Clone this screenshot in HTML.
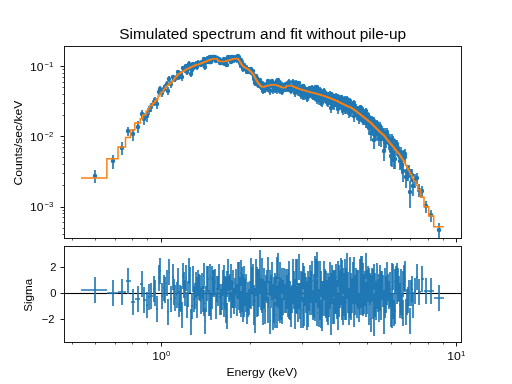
<!DOCTYPE html>
<html><head><meta charset="utf-8"><style>
html,body{margin:0;padding:0;background:#fff;width:512px;height:384px;overflow:hidden}
svg{display:block}
text{font-family:"Liberation Sans",sans-serif;fill:#000}
</style></head><body>
<svg width="512" height="384" viewBox="0 0 512 384">
<rect width="512" height="384" fill="#fff"/>
<g id="data" fill="none">
<path d="M95 183V170M113 169V155M122 155V142M128 136V127M133 141V129M138 133V121M142 119V110M144 125V113M147 122V111M149 115V106M151 112V103M154 106V98M155 105V97M157 109V99M159 95V89M160 92V86M162 97V90M164 92V85M165 91V84M167 87V81M168 95V87M169 82V76M171 88V81M173 80V75M174 82V76M175 82V76M177 80V74M178 75V70M179 80V74M180 78V72M181 77V71M182 81V74M183 71V66M184 72V67M185 73V67M186 69V64M187 75V69M188 71V66M189 66V61M190 68V63M191 77V71M192 73V67M193 66V62M194 70V65M195 69V64M196 66V61M197 70V64M197 67V62M198 65V60M199 65V61M200 65V61M201 67V62M202 64V60M203 66V61M204 62V57M204 66V61M205 70V64M206 65V60M207 63V58M207 61V57M208 60V56M209 64V60M210 64V60M210 59V55M211 64V60M212 59V55M212 62V58M213 59V56M214 60V56M214 59V55M215 59V55M216 63V59M217 60V56M218 61V57M218 62V58M219 61V57M220 64V60M220 65V61M221 65V61M222 64V60M223 62V58M224 66V61M224 61V57M225 63V59M225 64V60M226 67V62M226 63V59M227 62V58M227 67V62M228 60V56M228 59V55M229 62V57M230 61V57M231 59V55M231 64V59M232 62V57M232 62V57M233 62V57M233 59V55M234 63V58M235 61V56M235 61V57M236 59V55M237 62V57M237 63V58M238 60V56M238 58V54M239 63V58M239 59V55M240 63V58M240 66V61M241 62V58M241 68V63M242 64V60M242 69V64M243 67V63M243 72V67M244 71V66M244 67V63M245 69V65M245 70V65M246 71V67M246 69V65M247 74V69M247 74V69M248 72V67M248 74V69M249 74V69M250 73V68M250 74V69M251 75V70M251 71V67M252 73V69M253 73V69M253 77V72M254 79V73M254 82V77M254 80V75M255 86V80M255 82V77M256 80V75M256 79V74M257 81V76M257 86V81M258 83V79M258 88V82M258 84V79M259 87V82M259 85V80M260 85V80M260 82V78M261 88V83M261 90V85M262 86V81M262 85V81M262 91V86M263 89V84M263 94V88M264 90V85M264 87V82M265 90V84M265 91V85M265 93V87M266 88V83M267 86V82M267 87V82M267 88V83M268 92V86M268 84V79M269 88V83M269 88V83M270 86V81M270 95V88M271 88V83M271 88V83M271 87V81M272 84V79M272 86V81M273 94V87M273 89V83M274 87V82M274 87V82M274 92V86M275 93V87M275 86V81M276 87V82M276 88V82M277 94V87M277 83V78M277 89V84M278 83V78M278 89V83M279 88V83M279 93V87M280 85V80M280 94V87M280 89V83M281 89V84M281 93V87M282 87V82M282 95V89M283 93V87M283 91V85M283 92V86M284 89V84M284 88V83M285 92V86M285 92V86M286 92V86M286 91V85M286 87V82M287 90V84M287 88V82M288 89V83M288 92V85M288 86V81M289 92V86M289 89V83M289 84V79M290 92V86M290 89V83M291 94V87M291 90V84M291 94V87M292 90V84M292 91V85M293 89V83M293 85V79M293 89V83M294 88V82M294 90V84M294 91V85M295 93V87M295 97V90M295 90V84M296 86V80M296 89V83M296 93V86M297 86V81M297 93V86M297 94V87M298 96V89M298 95V88M298 93V86M299 86V81M299 93V87M300 96V89M300 94V88M300 93V87M301 99V92M301 92V86M301 90V85M302 92V86M302 91V85M303 98V91M303 100V92M303 89V84M304 90V84M304 100V92M304 93V87M305 94V87M305 92V86M305 93V87M306 96V89M306 94V87M306 94V88M307 95V88M307 102V94M307 98V91M308 101V94M308 94V88M308 93V87M309 94V88M309 97V90M309 95V89M310 92V86M310 98V91M310 92V87M311 93V87M311 95V89M312 91V85M312 99V92M312 93V87M313 100V92M313 99V92M313 100V93M314 95V88M314 100V93M315 96V90M315 101V94M315 93V87M315 91V85M316 96V90M316 91V86M316 95V89M317 90V85M317 97V90M317 104V96M318 93V87M318 98V91M319 102V94M319 100V93M319 105V97M320 99V92M320 103V95M320 93V87M321 96V90M321 106V97M321 105V97M322 101V94M322 107V99M322 99V93M323 99V92M323 102V95M323 102V94M324 98V91M324 95V89M324 94V88M325 100V93M325 97V90M325 103V95M326 98V92M326 104V96M326 98V91M327 106V98M327 105V97M327 101V94M328 99V92M328 107V99M328 103V96M329 101V94M329 100V94M329 105V97M330 101V94M330 103V96M330 97V91M331 100V93M331 108V100M331 113V103M331 102V95M332 98V92M332 102V95M332 99V93M333 105V97M333 109V101M333 100V94M333 103V96M334 101V94M334 110V101M335 103V96M335 107V99M335 101V94M335 107V99M336 107V99M336 107V99M336 100V93M337 105V97M337 108V100M337 110V101M338 110V102M338 100V94M338 114V105M339 109V101M339 103V97M339 101V95M340 107V99M340 103V97M340 104V97M341 103V96M341 107V99M341 101V95M342 106V99M342 102V95M342 113V104M343 104V97M343 114V105M343 115V106M344 106V99M344 112V104M344 107V100M345 114V105M345 103V96M345 109V101M346 114V106M346 109V101M346 106V99M346 113V105M347 108V100M347 102V96M347 106V100M348 110V103M348 113V105M348 108V101M349 118V108M349 114V105M349 116V107M350 104V98M350 110V103M350 116V107M351 117V108M351 109V102M351 116V107M352 114V106M352 112V105M352 112V104M353 112V104M353 112V105M353 108V101M354 106V100M354 122V112M354 113V105M354 109V102M355 117V109M355 113V105M355 113V106M356 114V106M356 111V104M356 112V105M357 120V111M357 116V108M357 113V106M358 113V106M358 118V110M358 118V110M358 117V109M359 122V113M359 124V114M360 111V105M360 120V111M360 118V110M360 122V113M361 113V106M361 112V105M361 120V112M361 117V109M362 123V114M362 113V106M362 116V109M363 125V115M363 115V108M363 119V111M363 119V111M364 120V112M364 125V116M364 125V115M365 119V111M365 123V114M366 128V118M366 114V108M366 124V116M367 127V117M367 128V118M367 121V113M368 120V112M368 124V115M369 121V113M369 135V123M369 128V118M369 129V119M370 127V117M370 124V116M371 141V127M371 133V122M371 126V117M372 124V116M372 124V116M372 128V119M373 136V125M373 126V117M373 136V125M374 137V126M374 149V133M374 125V117M375 129V120M375 138V126M375 133V123M376 133V123M376 141V129M377 135V125M377 133V123M377 131V122M377 128V120M378 135V125M378 139V127M379 134V124M379 141V129M379 146V133M380 131V122M380 140V129M381 137V127M381 135V125M381 147V134M382 135V126M382 137V127M383 141V130M383 138V128M384 146V134M384 161V143M385 144V133M385 150V136M385 138V128M386 142V131M386 148V136M387 144V133M387 137V128M387 139V130M388 144V133M388 144V134M389 150V138M389 149V137M390 145V134M390 150V138M390 148V137M391 160V145M391 166V149M392 167V149M392 155V142M392 144V134M393 145V136M393 162V147M394 169V151M395 150V139M395 152V141M395 169V152M396 150V140M397 156V144M397 150V140M398 157V145M398 154V143M399 158V147M400 170V154M400 164V151M401 169V154M401 158V147M402 174V158M403 182V163M403 162V151M404 160V150M405 159V149M405 163V152M406 188V169M407 181V165M408 181V166M409 178V165M410 208V181M411 182V169M412 182V169M413 196V178M415 188V174M417 184V173M419 197V184M422 197V186M426 213V201M431 222V210M439 238V223" stroke="#1f77b4" stroke-width="1.67"/>
<path d="M95 176h0M113 161h0M122 148h0M128 131h0M133 134h0M138 127h0M142 114h0M144 119h0M147 116h0M149 110h0M151 107h0M154 102h0M155 101h0M157 104h0M159 92h0M160 89h0M162 93h0M164 89h0M165 87h0M167 84h0M168 91h0M169 79h0M171 84h0M173 77h0M174 79h0M175 79h0M177 77h0M178 72h0M179 77h0M180 75h0M181 74h0M182 77h0M183 68h0M184 69h0M185 70h0M186 66h0M187 72h0M188 69h0M189 64h0M190 65h0M191 74h0M192 70h0M193 64h0M194 67h0M195 66h0M196 64h0M197 67h0M197 64h0M198 63h0M199 63h0M200 63h0M201 65h0M202 62h0M203 64h0M204 59h0M204 64h0M205 67h0M206 62h0M207 60h0M207 59h0M208 58h0M209 62h0M210 62h0M210 57h0M211 62h0M212 57h0M212 60h0M213 57h0M214 58h0M214 57h0M215 57h0M216 61h0M217 58h0M218 59h0M218 60h0M219 59h0M220 62h0M220 63h0M221 63h0M222 62h0M223 60h0M224 63h0M224 59h0M225 61h0M225 62h0M226 64h0M226 61h0M227 59h0M227 65h0M228 58h0M228 57h0M229 59h0M230 59h0M231 57h0M231 62h0M232 59h0M232 60h0M233 59h0M233 57h0M234 60h0M235 58h0M235 59h0M236 57h0M237 59h0M237 60h0M238 58h0M238 56h0M239 60h0M239 57h0M240 60h0M240 63h0M241 60h0M241 66h0M242 62h0M242 66h0M243 65h0M243 69h0M244 69h0M244 65h0M245 67h0M245 68h0M246 69h0M246 67h0M247 72h0M247 71h0M248 69h0M248 71h0M249 71h0M250 71h0M250 71h0M251 72h0M251 69h0M252 71h0M253 71h0M253 74h0M254 76h0M254 79h0M254 77h0M255 83h0M255 80h0M256 77h0M256 76h0M257 78h0M257 84h0M258 81h0M258 85h0M258 81h0M259 84h0M259 82h0M260 83h0M260 80h0M261 85h0M261 87h0M262 83h0M262 83h0M262 88h0M263 87h0M263 91h0M264 88h0M264 85h0M265 87h0M265 88h0M265 90h0M266 85h0M267 84h0M267 84h0M267 85h0M268 89h0M268 81h0M269 86h0M269 86h0M270 83h0M270 91h0M271 85h0M271 85h0M271 84h0M272 81h0M272 84h0M273 90h0M273 86h0M274 84h0M274 84h0M274 89h0M275 90h0M275 83h0M276 84h0M276 85h0M277 90h0M277 81h0M277 86h0M278 80h0M278 86h0M279 85h0M279 90h0M280 83h0M280 90h0M280 86h0M281 86h0M281 90h0M282 85h0M282 92h0M283 90h0M283 88h0M283 89h0M284 86h0M284 85h0M285 89h0M285 89h0M286 89h0M286 88h0M286 84h0M287 87h0M287 85h0M288 86h0M288 88h0M288 83h0M289 89h0M289 86h0M289 82h0M290 89h0M290 86h0M291 91h0M291 87h0M291 90h0M292 87h0M292 88h0M293 86h0M293 82h0M293 86h0M294 85h0M294 87h0M294 88h0M295 90h0M295 93h0M295 87h0M296 83h0M296 86h0M296 89h0M297 83h0M297 89h0M297 90h0M298 92h0M298 92h0M298 89h0M299 83h0M299 90h0M300 92h0M300 91h0M300 90h0M301 95h0M301 89h0M301 87h0M302 89h0M302 88h0M303 94h0M303 96h0M303 86h0M304 87h0M304 96h0M304 90h0M305 90h0M305 89h0M305 90h0M306 92h0M306 90h0M306 91h0M307 91h0M307 98h0M307 94h0M308 97h0M308 91h0M308 89h0M309 91h0M309 93h0M309 92h0M310 88h0M310 95h0M310 89h0M311 90h0M311 92h0M312 88h0M312 95h0M312 90h0M313 96h0M313 95h0M313 96h0M314 91h0M314 96h0M315 93h0M315 97h0M315 90h0M315 88h0M316 93h0M316 89h0M316 92h0M317 87h0M317 94h0M317 100h0M318 90h0M318 95h0M319 98h0M319 97h0M319 100h0M320 95h0M320 99h0M320 90h0M321 93h0M321 101h0M321 101h0M322 97h0M322 103h0M322 96h0M323 96h0M323 98h0M323 98h0M324 94h0M324 91h0M324 91h0M325 96h0M325 93h0M325 99h0M326 95h0M326 100h0M326 94h0M327 101h0M327 100h0M327 97h0M328 95h0M328 103h0M328 99h0M329 97h0M329 97h0M329 101h0M330 98h0M330 99h0M330 94h0M331 96h0M331 103h0M331 108h0M331 98h0M332 95h0M332 98h0M332 96h0M333 101h0M333 105h0M333 97h0M333 99h0M334 97h0M334 105h0M335 99h0M335 102h0M335 97h0M335 102h0M336 103h0M336 103h0M336 96h0M337 101h0M337 104h0M337 105h0M338 105h0M338 97h0M338 109h0M339 105h0M339 100h0M339 98h0M340 103h0M340 100h0M340 100h0M341 99h0M341 103h0M341 98h0M342 103h0M342 98h0M342 108h0M343 100h0M343 109h0M343 110h0M344 102h0M344 108h0M344 103h0M345 109h0M345 99h0M345 105h0M346 110h0M346 105h0M346 102h0M346 109h0M347 104h0M347 99h0M347 103h0M348 106h0M348 108h0M348 104h0M349 113h0M349 109h0M349 111h0M350 101h0M350 106h0M350 111h0M351 112h0M351 106h0M351 111h0M352 110h0M352 108h0M352 108h0M353 108h0M353 108h0M353 104h0M354 103h0M354 116h0M354 109h0M354 105h0M355 113h0M355 109h0M355 109h0M356 110h0M356 108h0M356 109h0M357 115h0M357 112h0M357 109h0M358 109h0M358 113h0M358 113h0M358 113h0M359 117h0M359 119h0M360 108h0M360 115h0M360 114h0M360 117h0M361 110h0M361 108h0M361 116h0M361 113h0M362 118h0M362 109h0M362 112h0M363 120h0M363 111h0M363 115h0M363 115h0M364 115h0M364 120h0M364 120h0M365 115h0M365 118h0M366 123h0M366 111h0M366 120h0M367 122h0M367 123h0M367 117h0M368 116h0M368 119h0M369 117h0M369 128h0M369 123h0M369 124h0M370 122h0M370 120h0M371 133h0M371 127h0M371 121h0M372 120h0M372 120h0M372 123h0M373 130h0M373 121h0M373 130h0M374 131h0M374 140h0M374 121h0M375 124h0M375 132h0M375 128h0M376 128h0M376 134h0M377 130h0M377 127h0M377 126h0M377 123h0M378 130h0M378 132h0M379 128h0M379 134h0M379 139h0M380 126h0M380 134h0M381 132h0M381 130h0M381 139h0M382 130h0M382 132h0M383 135h0M383 133h0M384 139h0M384 151h0M385 138h0M385 142h0M385 133h0M386 136h0M386 141h0M387 138h0M387 132h0M387 134h0M388 138h0M388 138h0M389 143h0M389 143h0M390 139h0M390 144h0M390 142h0M391 151h0M391 156h0M392 157h0M392 148h0M392 139h0M393 140h0M393 154h0M394 159h0M395 144h0M395 146h0M395 159h0M396 144h0M397 150h0M397 144h0M398 150h0M398 148h0M399 152h0M400 161h0M400 157h0M401 161h0M401 152h0M402 165h0M403 171h0M403 156h0M404 154h0M405 154h0M405 157h0M406 177h0M407 172h0M408 172h0M409 171h0M410 192h0M411 175h0M412 175h0M413 186h0M415 180h0M417 178h0M419 190h0M422 191h0M426 206h0M431 215h0M439 230h0" stroke="#1f77b4" stroke-width="4.44" stroke-linecap="round"/>
<path d="M81 177.9H106.9V158.7H118V147H125.5V137.6H130.5V130.1H134.8V123H140.25V118.8H142.75V115H146V111.2H147.72V108.63H149.66V105.87H152.55V103.03H154.83V100.89H156.17V98.65H157.99V95.96H159.82V94.12H161.11V92.2H163.17V90H164.31V88.13H165.77V86.52H167.33V85.18H168.73V84.06H170.26V82.94H171.88V81.08H173.66V79.29H174.67V77.81H176V76.14H177.35V75.02H178.31V74.37H178.99V73.5H180.53V72.65H181.45V72.1H182.37V71.4H183.76V70.63H184.88V69.99H185.88V69.32H187.11V68.84H187.72V68.4H188.86V67.9H189.73V67.57H190.37V67.24H191.42V66.78H192.66V66.37H193.35V65.95H194.33V65.51H195.06V65.07H196.09V64.75H197.08V64.57H197.73V64.39H198.76V64.14H199.67V63.77H200.57V63.37H201.56V63.01H202.29V62.68H203.22V62.31H204.22V62.01H204.74V61.73H205.71V61.4H206.4V61.12H207.14V60.88H207.67V60.61H208.53V60.31H209.14V59.98H210.09V59.65H210.68V59.37H211.44V59.13H212.1V59.04H212.88V58.97H213.41V58.92H213.94V58.84H214.77V58.8H215.61V58.8H216.34V58.8H217.26V59.41H217.78V60.75H218.64V61.14H219.14V61.29H220.05V61.46H220.78V61.58H221.5V61.6H222.39V61.6H223.19V61.6H223.98V61.59H224.39V61.48H224.96V61.34H225.39V61.21H225.86V61.07H226.34V60.89H227.15V60.71H227.58V60.57H228.09V60.39H228.7V60.18H229.48V59.93H230.31V59.7H231.01V59.52H231.47V59.36H232.08V59.16H232.76V59H233.14V58.85H233.8V58.76H234.32V58.7H234.93V58.64H235.58V58.58H236.22V58.53H236.79V58.63H237.38V58.82H237.8V59.02H238.35V59.47H238.73V60.19H239.27V61.05H239.83V62.01H240.49V62.95H240.98V63.61H241.31V64.32H241.86V65.1H242.27V65.81H242.9V66.24H243.39V66.57H243.87V66.97H244.57V67.37H245.05V67.64H245.51V67.88H245.97V68.13H246.48V68.35H246.83V68.58H247.37V68.9H248.06V69.26H248.6V69.81H249.21V70.46H249.9V71.13H250.55V71.75H251.16V72.37H251.79V73H252.42V73.52H252.82V73.96H253.31V74.63H253.74V75.43H254.14V76.32H254.66V77.23H255.08V78.17H255.62V79.2H256.14V80.04H256.48V80.77H256.94V81.43H257.38V82.11H257.94V82.71H258.27V83.17H258.62V83.74H259.1V84.32H259.54V84.81H260.08V85.29H260.49V85.67H260.85V86.17H261.48V86.64H261.86V86.76H262.19V86.82H262.58V86.89H262.98V86.95H263.35V87.03H263.82V87H264.45V86.76H264.77V86.55H265.2V86.29H265.71V86.1H266.31V85.94H266.94V85.82H267.27V85.73H267.73V85.59H268.31V85.49H268.6V85.39H269.08V85.29H269.41V85.18H269.94V85.07H270.54V85.01H270.99V84.96H271.26V84.93H271.54V84.89H271.95V84.83H272.5V84.78H272.84V84.77H273.33V84.81H273.73V84.85H274.08V84.89H274.58V84.93H274.94V84.96H275.32V85H275.83V85.05H276.25V85.1H276.77V85.26H277.19V85.41H277.49V85.55H277.89V85.75H278.43V85.95H278.86V86.16H279.43V86.33H279.67V86.45H280.03V86.63H280.52V86.81H280.99V86.98H281.41V87.15H281.87V87.33H282.39V87.52H282.85V87.67H283.26V87.7H283.68V87.7H284.13V87.7H284.47V87.7H284.91V87.69H285.34V87.36H285.82V86.82H286.2V86.44H286.44V86.05H286.84V85.83H287.33V85.79H287.76V85.76H288.18V85.73H288.53V85.7H288.87V85.67H289.31V85.64H289.56V85.61H290.05V85.57H290.53V85.53H291.04V85.52H291.31V85.61H291.56V85.77H292.05V85.96H292.39V86.11H292.68V86.25H293.02V86.42H293.43V86.57H293.69V86.71H294.05V86.89H294.46V87.08H294.88V87.22H295.1V87.37H295.54V87.54H295.88V87.67H296.22V87.8H296.59V87.93H296.88V88.07H297.34V88.21H297.61V88.33H297.97V88.44H298.22V88.56H298.6V88.72H299.06V88.89H299.51V89H299.76V89.1H300.14V89.22H300.59V89.33H300.85V89.42H301.17V89.53H301.58V89.66H301.99V89.77H302.32V89.88H302.7V90H303.09V90.1H303.4V90.2H303.78V90.32H304.15V90.43H304.54V90.54H304.89V90.64H305.19V90.73H305.51V90.85H305.97V90.95H306.23V91.03H306.47V91.09H306.68V91.19H307.12V91.33H307.6V91.45H307.87V91.53H308.14V91.61H308.4V91.71H308.77V91.82H309.11V91.93H309.54V92.04H309.8V92.14H310.24V92.24H310.57V92.31H311V92.39H311.42V92.47H311.87V92.55H312.21V92.62H312.58V92.68H312.94V92.74H313.19V92.8H313.53V92.87H313.98V92.99H314.43V93.09H314.64V93.19H315.02V93.29H315.32V93.37H315.55V93.44H315.8V93.54H316.21V93.68H316.67V93.8H317.02V93.9H317.32V94H317.66V94.11H318.09V94.23H318.49V94.33H318.71V94.4H318.97V94.5H319.4V94.62H319.74V94.72H320.11V94.84H320.52V94.95H320.9V95.07H321.29V95.18H321.64V95.27H321.9V95.34H322.15V95.45H322.62V95.55H322.82V95.64H323.21V95.76H323.64V95.86H323.91V95.93H324.12V96.01H324.43V96.1H324.71V96.19H325.04V96.28H325.35V96.4H325.8V96.52H326.03V96.65H326.48V96.77H326.69V96.9H327.14V97.04H327.43V97.17H327.82V97.28H328.02V97.38H328.34V97.51H328.72V97.65H329.08V97.8H329.49V97.93H329.73V98.04H330.04V98.18H330.4V98.3H330.6V98.43H331.02V98.58H331.33V98.7H331.59V98.81H331.85V98.94H332.22V99.06H332.43V99.16H332.69V99.27H332.97V99.38H333.24V99.51H333.62V99.65H333.98V99.81H334.41V99.97H334.79V100.1H335.07V100.2H335.35V100.3H335.58V100.4H335.84V100.52H336.19V100.67H336.58V100.81H336.86V100.95H337.14V101.13H337.55V101.35H337.99V101.52H338.21V101.63H338.43V101.79H338.82V101.97H339.15V102.14H339.45V102.31H339.81V102.5H340.21V102.65H340.42V102.81H340.86V103.03H341.31V103.21H341.61V103.36H341.93V103.51H342.19V103.65H342.54V103.8H342.79V103.94H343.12V104.13H343.55V104.31H343.88V104.49H344.28V104.65H344.52V104.82H344.95V104.98H345.17V105.1H345.42V105.26H345.8V105.42H346.07V105.54H346.3V105.65H346.51V105.81H346.91V105.95H347.11V106.06H347.32V106.21H347.75V106.38H348.15V106.52H348.44V106.63H348.68V106.76H349.09V106.93H349.49V107.08H349.85V107.22H350.18V107.35H350.51V107.51H350.95V107.67H351.28V107.83H351.49V107.97H351.7V108.16H352.04V108.41H352.42V108.67H352.77V108.92H353.16V109.14H353.42V109.33H353.71V109.52H353.97V109.71H354.25V109.9H354.51V110.13H354.91V110.35H355.14V110.51H355.39V110.72H355.76V110.95H356.05V111.15H356.33V111.4H356.77V111.72H357.18V111.98H357.43V112.17H357.66V112.39H357.97V112.65H358.31V112.9H358.59V113.14H358.93V113.43H359.3V113.73H359.7V114H359.96V114.24H360.32V114.47H360.53V114.64H360.75V114.81H360.96V114.99H361.18V115.24H361.59V115.52H361.89V115.77H362.22V116.03H362.54V116.26H362.79V116.45H363.01V116.63H363.26V116.9H363.69V117.19H363.98V117.44H364.3V117.68H364.58V117.95H364.99V118.27H365.39V118.56H365.7V118.82H366.05V119.09H366.37V119.36H366.74V119.66H367.11V119.97H367.48V120.3H367.95V120.69H368.43V120.97H368.66V121.2H368.98V121.42H369.21V121.64H369.53V121.95H369.98V122.3H370.4V122.62H370.78V122.9H371.02V123.25H371.48V123.68H371.88V124.04H372.19V124.42H372.65V124.76H372.88V125.02H373.16V125.39H373.62V125.74H373.86V125.99H374.13V126.32H374.5V126.73H374.95V127.15H375.36V127.48H375.6V127.75H375.91V128.13H376.36V128.53H376.7V128.84H376.99V129.11H377.22V129.38H377.54V129.8H378.06V130.19H378.31V130.52H378.72V130.98H379.25V131.48H379.71V131.87H380.03V132.23H380.48V132.54H380.76V132.83H381.16V133.14H381.49V133.5H382.02V133.94H382.54V134.38H383.04V134.74H383.41V135.11H383.92V135.67H384.49V136.29H384.86V136.82H385.29V137.31H385.59V137.7H385.88V138.22H386.38V138.73H386.65V139.21H387.11V139.71H387.4V140.22H387.89V140.83H388.4V141.48H388.99V142.06H389.38V142.53H389.78V143.01H390.18V143.55H390.69V144.17H391.23V144.68H391.53V145.08H391.91V145.48H392.2V145.86H392.55V146.38H393.08V147.07H393.71V147.85H394.37V148.45H394.69V148.92H395.16V149.61H395.83V150.34H396.36V150.95H396.84V151.65H397.52V152.52H398.26V153.22H398.69V153.85H399.3V154.58H399.74V155.27H400.21V156.12H400.87V157.02H401.4V158.04H402.23V159.14H402.85V160.02H403.4V161.07H404.25V162.23H404.93V163.32H405.5V165.15H406.8V167.18H407.56V168.67H408.31V170.5H409.42V172.32H410.15V174.61H411.73V177.1H412.68V178.62H413.65V181.18H415.9V185.18H417.81V190.02H420.68V197.37H424V206.8H428.7V216H433.7V226.8H443.7" stroke="#ff7f0e" stroke-width="1.5" stroke-linecap="butt" stroke-linejoin="miter"/>
</g>
<g id="zl" shape-rendering="crispEdges"><rect x="64" y="293" width="398" height="1" fill="#000"/><rect x="64" y="292" width="398" height="1" fill="#f1f1f1"/><rect x="64" y="294" width="398" height="1" fill="#f1f1f1"/></g>
<g id="resid" fill="none"><path d="M95 303V277M81 290H107M113 306V280M107 293H118M122 305V279M118 292H126M128 294V268M126 281H131M133 315V289M131 302H135M138 312V286M135 299H140M142 297V271M140 284H143M144 313V287M143 300H146M147 318V292M146 305H148M149 310V284M148 297H150M151 309V283M150 296H153M154 302V276M153 289H155M155 306V280M155 293H156M157 322V296M156 309H158M159 291V265M158 278H160M160 284V258M160 271H161M162 309V283M161 296H163M164 301V275M163 288H164M165 303V277M164 290H166M167 296V270M166 283H167M168 325V299M167 312H169M169 285V259M169 272H170M171 312V286M170 299H172M173 290V264M172 277H174M174 305V279M174 292H175M175 311V285M175 298H176M177 308V282M176 295H177M178 294V268M177 281H178M179 317V291M178 304H179M180 311V285M179 298H181M181 312V286M181 299H181M182 328V302M181 315H182M183 289V263M182 276H184M184 298V272M184 285H185M185 306V280M185 293H186M186 291V265M186 278H187M187 318V292M187 305H188M188 307V281M188 294H189M189 284V258M189 271H190M190 293V267M190 280H190M191 335V309M190 322H191M192 319V293M191 306H193M193 292V266M193 279H193M194 312V286M193 299H194M195 309V283M194 296H195M196 298V272M195 285H196M197 318V292M196 305H197M197 303V277M197 290H198M198 296V270M198 283H199M199 300V274M199 287H200M200 301V275M200 288H201M201 314V288M201 301H202M202 299V273M202 286H202M203 312V286M202 299H203M204 289V263M203 276H204M204 316V290M204 303H205M205 334V308M205 321H206M206 312V286M206 299H206M207 301V275M206 288H207M207 292V266M207 279H208M208 292V266M208 279H209M209 316V290M209 303H209M210 316V290M209 303H210M210 290V264M210 277H211M211 320V294M211 307H211M212 292V266M211 279H212M212 309V283M212 296H213M213 296V270M213 283H213M214 297V271M213 284H214M214 296V270M214 283H215M215 295V269M215 282H216M216 319V293M216 306H216M217 302V276M216 289H217M218 306V280M217 293H218M218 302V276M218 289H219M219 290V264M219 277H219M220 310V284M219 297H220M220 315V289M220 302H221M221 315V289M221 302H221M222 310V284M221 297H222M223 296V270M222 283H223M224 317V291M223 304H224M224 291V265M224 278H224M225 302V276M224 289H225M225 309V283M225 296H225M226 323V297M225 310H226M226 303V277M226 290H226M227 297V271M226 284H227M227 329V303M227 316H228M228 291V265M228 278H228M228 285V259M228 272H229M229 302V276M229 289H229M230 300V274M229 287H230M231 290V264M230 277H231M231 318V292M231 305H231M232 306V280M231 293H232M232 308V282M232 295H233M233 308V282M233 295H233M233 296V270M233 283H234M234 314V288M234 301H234M235 304V278M234 291H235M235 308V282M235 295H236M236 295V269M236 282H236M237 310V284M236 297H237M237 316V290M237 303H237M238 299V273M237 286H238M238 288V262M238 275H238M239 310V284M238 297H239M239 288V262M239 275H239M240 303V277M239 290H240M240 313V287M240 300H240M241 286V260M240 273H241M241 317V291M241 304H241M242 293V267M241 280H242M242 312V286M242 299H242M243 300V274M242 287H243M243 322V296M243 309H243M244 317V291M243 304H244M244 292V266M244 279H245M245 304V278M245 291H245M245 306V280M245 293H246M246 312V286M246 299H246M246 300V274M246 287H246M247 324V298M246 311H247M247 321V295M247 308H247M248 308V282M247 295H248M248 317V291M248 304H249M249 315V289M249 302H249M250 307V281M249 294H250M250 308V282M250 295H251M251 309V283M251 296H251M251 284V258M251 271H252M252 293V267M252 280H252M253 290V264M252 277H253M253 306V280M253 293H253M254 313V287M253 300H254M254 325V299M254 312H254M254 311V285M254 298H255M255 333V307M255 320H255M255 314V288M255 301H256M256 296V270M256 283H256M256 285V259M256 272H256M257 293V267M256 280H257M257 317V291M257 304H257M258 300V274M257 287H258M258 316V290M258 303H258M258 295V269M258 282H259M259 307V281M259 294H259M259 295V269M259 282H260M260 294V268M260 281H260M260 276V250M260 263H260M261 304V278M260 291H261M261 310V284M261 297H261M262 289V263M261 276H262M262 284V258M262 271H262M262 313V287M262 300H263M263 305V279M263 292H263M263 325V299M263 312H263M264 309V283M263 296H264M264 294V268M264 281H264M265 307V281M264 294H265M265 313V287M265 300H265M265 324V298M265 311H266M266 301V275M266 288H266M267 296V270M266 283H267M267 298V272M267 285H267M267 303V277M267 290H268M268 323V297M268 310H268M268 283V257M268 270H269M269 307V281M269 294H269M269 308V282M269 295H269M270 296V270M269 283H270M270 334V308M270 321H271M271 307V281M271 294H271M271 308V282M271 295H271M271 301V275M271 288H272M272 288V262M272 275H272M272 300V274M272 287H273M273 330V304M273 317H273M273 310V284M273 297H273M274 303V277M273 290H274M274 304V278M274 291H274M274 323V297M274 310H275M275 328V302M275 315H275M275 299V273M275 286H275M276 302V276M275 289H276M276 306V280M276 293H276M277 328V302M276 315H277M277 283V257M277 270H277M277 311V285M277 298H277M278 279V253M277 266H278M278 308V282M278 295H278M279 303V277M278 290H279M279 321V295M279 308H279M280 288V262M279 275H280M280 323V297M280 310H280M280 303V277M280 290H281M281 304V278M281 291H281M281 320V294M281 307H281M282 294V268M281 281H282M282 324V298M282 311H282M283 315V289M282 302H283M283 306V280M283 293H283M283 311V285M283 298H284M284 300V274M284 287H284M284 294V268M284 281H284M285 310V284M284 297H285M285 313V287M285 300H285M286 313V287M285 300H286M286 311V285M286 298H286M286 295V269M286 282H286M287 309V283M286 296H287M287 301V275M287 288H287M288 307V281M287 294H288M288 317V291M288 304H288M288 295V269M288 282H289M289 319V293M289 306H289M289 306V280M289 293H289M289 287V261M289 274H290M290 320V294M290 307H290M290 307V281M290 294H291M291 327V301M291 314H291M291 313V287M291 300H291M291 325V299M291 312H292M292 311V285M292 298H292M292 313V287M292 300H292M293 304V278M292 291H293M293 285V259M293 272H293M293 302V276M293 289H293M294 297V271M293 284H294M294 307V281M294 294H294M294 309V283M294 296H294M295 317V291M294 304H295M295 329V303M295 316H295M295 305V279M295 292H296M296 285V259M296 272H296M296 300V274M296 287H296M296 313V287M296 300H297M297 285V259M297 272H297M297 312V286M297 299H297M297 314V288M297 301H298M298 322V296M298 309H298M298 319V293M298 306H298M298 309V283M298 296H299M299 280V254M299 267H299M299 309V283M299 296H300M300 319V293M300 306H300M300 314V288M300 301H300M300 309V283M300 296H301M301 328V302M301 315H301M301 304V278M301 291H301M301 297V271M301 284H302M302 302V276M302 289H302M302 298V272M302 285H302M303 323V297M302 310H303M303 328V302M303 315H303M303 289V263M303 276H303M304 292V266M303 279H304M304 326V300M304 313H304M304 303V277M304 290H305M305 306V280M305 293H305M305 299V273M305 286H305M305 303V277M305 290H306M306 313V287M306 300H306M306 303V277M306 290H306M306 304V278M306 291H306M307 307V281M306 294H307M307 330V304M307 317H307M307 316V290M307 303H308M308 327V301M308 314H308M308 303V277M308 290H308M308 297V271M308 284H308M309 303V277M308 290H309M309 311V285M309 298H309M309 305V279M309 292H310M310 291V265M310 278H310M310 315V289M310 302H310M310 294V268M310 281H311M311 297V271M311 284H311M311 303V277M311 290H311M312 287V261M311 274H312M312 315V289M312 302H312M312 294V268M312 281H313M313 318V292M313 305H313M313 316V290M313 303H313M313 320V294M313 307H314M314 300V274M314 287H314M314 318V292M314 305H314M315 305V279M314 292H315M315 321V295M315 308H315M315 292V266M315 279H315M315 282V256M315 269H316M316 303V277M316 290H316M316 285V259M316 272H316M316 299V273M316 286H317M317 278V252M317 265H317M317 305V279M317 292H317M317 326V300M317 313H318M318 287V261M318 274H318M318 308V282M318 295H318M319 319V293M318 306H319M319 315V289M319 302H319M319 327V301M319 314H319M320 308V282M319 295H320M320 320V294M320 307H320M320 287V261M320 274H321M321 297V271M321 284H321M321 328V302M321 315H321M321 326V300M321 313H322M322 313V287M322 300H322M322 331V305M322 318H322M322 307V281M322 294H323M323 307V281M323 294H323M323 316V290M323 303H323M323 313V287M323 300H324M324 300V274M324 287H324M324 288V262M324 275H324M324 287V261M324 274H324M325 306V280M324 293H325M325 295V269M325 282H325M325 316V290M325 303H325M326 301V275M325 288H326M326 318V292M326 305H326M326 297V271M326 284H326M327 322V296M326 309H327M327 319V293M327 306H327M327 306V280M327 293H327M328 299V273M327 286H328M328 325V299M328 312H328M328 313V287M328 300H328M329 304V278M328 291H329M329 303V277M329 290H329M329 317V291M329 304H329M330 305V279M329 292H330M330 309V283M330 296H330M330 288V262M330 275H330M331 299V273M330 286H331M331 323V297M331 310H331M331 335V309M331 322H331M331 305V279M331 292H332M332 291V265M332 278H332M332 304V278M332 291H332M332 295V269M332 282H332M333 312V286M332 299H333M333 324V298M333 311H333M333 296V270M333 283H333M333 305V279M333 292H334M334 297V271M334 284H334M334 324V298M334 311H334M335 304V278M334 291H335M335 314V288M335 301H335M335 296V270M335 283H335M335 314V288M335 301H336M336 314V288M336 301H336M336 314V288M336 301H336M336 290V264M336 277H337M337 306V280M337 293H337M337 316V290M337 303H337M337 319V293M337 306H338M338 320V294M338 307H338M338 287V261M338 274H338M338 330V304M338 317H338M339 317V291M338 304H339M339 298V272M339 285H339M339 291V265M339 278H339M340 308V282M339 295H340M340 296V270M340 283H340M340 296V270M340 283H340M341 293V267M340 280H341M341 305V279M341 292H341M341 284V258M341 271H342M342 303V277M342 290H342M342 286V260M342 273H342M342 320V294M342 307H343M343 294V268M343 281H343M343 322V296M343 309H343M343 325V299M343 312H344M344 299V273M344 286H344M344 316V290M344 303H344M344 300V274M344 287H345M345 320V294M345 307H345M345 285V259M345 272H345M345 305V279M345 292H345M346 320V294M345 307H346M346 303V277M346 290H346M346 294V268M346 281H346M346 315V289M346 302H347M347 299V273M347 286H347M347 279V253M347 266H347M347 294V268M347 281H347M348 305V279M347 292H348M348 313V287M348 300H348M348 298V272M348 285H348M349 325V299M348 312H349M349 314V288M349 301H349M349 319V293M349 306H349M350 283V257M349 270H350M350 303V277M350 290H350M350 318V292M350 305H351M351 320V294M351 307H351M351 299V273M351 286H351M351 316V290M351 303H351M352 313V287M351 300H352M352 306V280M352 293H352M352 304V278M352 291H352M353 304V278M352 291H353M353 304V278M353 291H353M353 288V262M353 275H353M354 283V257M353 270H354M354 327V301M354 314H354M354 303V277M354 290H354M354 289V263M354 276H355M355 315V289M355 302H355M355 301V275M355 288H355M355 302V276M355 289H355M356 304V278M355 291H356M356 294V268M356 281H356M356 297V271M356 284H356M357 318V292M356 305H357M357 307V281M357 294H357M357 296V270M357 283H357M358 296V270M357 283H358M358 309V283M358 296H358M358 309V283M358 296H358M358 307V281M358 294H359M359 319V293M359 306H359M359 322V296M359 309H359M360 285V259M359 272H360M360 310V284M360 297H360M360 304V278M360 291H360M360 315V289M360 302H361M361 288V262M361 275H361M361 282V256M361 269H361M361 308V282M361 295H361M361 298V272M361 285H362M362 315V289M362 302H362M362 282V256M362 269H362M362 293V267M362 280H363M363 316V290M363 303H363M363 289V263M363 276H363M363 300V274M363 287H363M363 300V274M363 287H364M364 300V274M364 287H364M364 314V288M364 301H364M364 312V286M364 299H365M365 297V271M365 284H365M365 306V280M365 293H365M366 317V291M365 304H366M366 279V253M366 266H366M366 308V282M366 295H366M367 312V286M366 299H367M367 314V288M367 301H367M367 296V270M367 283H367M368 292V266M367 279H368M368 302V276M368 289H368M369 294V268M368 281H369M369 325V299M369 312H369M369 310V284M369 297H369M369 311V285M369 298H370M370 305V279M370 292H370M370 299V273M370 286H370M371 332V306M370 319H371M371 316V290M371 303H371M371 301V275M371 288H371M372 294V268M371 281H372M372 294V268M372 281H372M372 302V276M372 289H373M373 319V293M373 306H373M373 295V269M373 282H373M373 317V291M373 304H374M374 319V293M374 306H374M374 336V310M374 323H374M374 290V264M374 277H375M375 299V273M375 286H375M375 317V291M375 304H375M375 307V281M375 294H376M376 307V281M376 294H376M376 320V294M376 307H376M377 309V283M376 296H377M377 302V276M377 289H377M377 298V272M377 285H377M377 289V263M377 276H378M378 305V279M378 292H378M378 312V286M378 299H378M379 300V274M378 287H379M379 314V288M379 301H379M379 322V296M379 309H380M380 291V265M380 278H380M380 311V285M380 298H380M381 304V278M380 291H381M381 297V271M381 284H381M381 320V294M381 307H381M382 297V271M381 284H382M382 300V274M382 287H383M383 307V281M383 294H383M383 301V275M383 288H383M384 316V290M383 303H384M384 334V308M384 321H384M385 309V283M384 296H385M385 318V292M385 305H385M385 294V268M385 281H386M386 302V276M386 289H386M386 313V287M386 300H386M387 305V279M386 292H387M387 288V262M387 275H387M387 291V265M387 278H387M388 301V275M387 288H388M388 300V274M388 287H388M389 309V283M388 296H389M389 307V281M389 294H389M390 298V272M389 285H390M390 307V281M390 294H390M390 302V276M390 289H391M391 320V294M391 307H391M391 327V301M391 314H392M392 328V302M392 315H392M392 311V285M392 298H392M392 289V263M392 276H393M393 290V264M393 277H393M393 319V293M393 306H394M394 326V300M394 313H394M395 295V269M394 282H395M395 300V274M395 287H395M395 324V298M395 311H396M396 292V266M396 279H396M397 304V278M396 291H397M397 289V263M397 276H398M398 301V275M398 288H398M398 294V268M398 281H399M399 302V276M399 289H399M400 318V292M399 305H400M400 309V283M400 296H400M401 315V289M400 302H401M401 295V269M401 282H401M402 319V293M401 306H402M403 326V300M402 313H403M403 297V271M403 284H403M404 291V265M403 278H404M405 287V261M404 274H405M405 292V266M405 279H406M406 325V299M406 312H407M407 315V289M407 302H408M408 313V287M408 300H408M409 306V280M408 293H409M410 334V308M409 321H410M411 306V280M410 293H412M412 302V276M412 289H413M413 318V292M413 305H414M415 304V278M414 291H416M417 290V264M416 277H418M419 305V279M418 292H421M422 292V266M421 279H424M426 304V278M424 291H429M431 304V278M429 291H434M439 311V285M434 298H444" stroke="#1f77b4" stroke-width="1.67"/></g>
<g id="frame" shape-rendering="crispEdges"><rect x="64" y="46" width="398" height="1" fill="#1b1b1b"/><rect x="64" y="238" width="398" height="1" fill="#1b1b1b"/><rect x="64" y="46" width="1" height="193" fill="#1b1b1b"/><rect x="461" y="46" width="1" height="193" fill="#1b1b1b"/><rect x="64" y="246" width="398" height="1" fill="#1b1b1b"/><rect x="64" y="342" width="398" height="1" fill="#1b1b1b"/><rect x="64" y="246" width="1" height="97" fill="#1b1b1b"/><rect x="461" y="246" width="1" height="97" fill="#1b1b1b"/><rect x="161" y="239" width="1" height="3" fill="#1b1b1b"/><rect x="161" y="242" width="1" height="1" fill="#8d8d8d"/><rect x="456" y="239" width="1" height="3" fill="#1b1b1b"/><rect x="456" y="242" width="1" height="1" fill="#8d8d8d"/><rect x="72" y="239" width="1" height="1" fill="#555"/><rect x="72" y="240" width="1" height="1" fill="#aaa"/><rect x="95" y="239" width="1" height="1" fill="#555"/><rect x="95" y="240" width="1" height="1" fill="#aaa"/><rect x="115" y="239" width="1" height="1" fill="#555"/><rect x="115" y="240" width="1" height="1" fill="#aaa"/><rect x="132" y="239" width="1" height="1" fill="#555"/><rect x="132" y="240" width="1" height="1" fill="#aaa"/><rect x="147" y="239" width="1" height="1" fill="#555"/><rect x="147" y="240" width="1" height="1" fill="#aaa"/><rect x="250" y="239" width="1" height="1" fill="#555"/><rect x="250" y="240" width="1" height="1" fill="#aaa"/><rect x="302" y="239" width="1" height="1" fill="#555"/><rect x="302" y="240" width="1" height="1" fill="#aaa"/><rect x="339" y="239" width="1" height="1" fill="#555"/><rect x="339" y="240" width="1" height="1" fill="#aaa"/><rect x="367" y="239" width="1" height="1" fill="#555"/><rect x="367" y="240" width="1" height="1" fill="#aaa"/><rect x="391" y="239" width="1" height="1" fill="#555"/><rect x="391" y="240" width="1" height="1" fill="#aaa"/><rect x="410" y="239" width="1" height="1" fill="#555"/><rect x="410" y="240" width="1" height="1" fill="#aaa"/><rect x="428" y="239" width="1" height="1" fill="#555"/><rect x="428" y="240" width="1" height="1" fill="#aaa"/><rect x="443" y="239" width="1" height="1" fill="#555"/><rect x="443" y="240" width="1" height="1" fill="#aaa"/><rect x="161" y="343" width="1" height="3" fill="#1b1b1b"/><rect x="161" y="346" width="1" height="1" fill="#8d8d8d"/><rect x="456" y="343" width="1" height="3" fill="#1b1b1b"/><rect x="456" y="346" width="1" height="1" fill="#8d8d8d"/><rect x="72" y="343" width="1" height="1" fill="#555"/><rect x="72" y="344" width="1" height="1" fill="#aaa"/><rect x="95" y="343" width="1" height="1" fill="#555"/><rect x="95" y="344" width="1" height="1" fill="#aaa"/><rect x="115" y="343" width="1" height="1" fill="#555"/><rect x="115" y="344" width="1" height="1" fill="#aaa"/><rect x="132" y="343" width="1" height="1" fill="#555"/><rect x="132" y="344" width="1" height="1" fill="#aaa"/><rect x="147" y="343" width="1" height="1" fill="#555"/><rect x="147" y="344" width="1" height="1" fill="#aaa"/><rect x="250" y="343" width="1" height="1" fill="#555"/><rect x="250" y="344" width="1" height="1" fill="#aaa"/><rect x="302" y="343" width="1" height="1" fill="#555"/><rect x="302" y="344" width="1" height="1" fill="#aaa"/><rect x="339" y="343" width="1" height="1" fill="#555"/><rect x="339" y="344" width="1" height="1" fill="#aaa"/><rect x="367" y="343" width="1" height="1" fill="#555"/><rect x="367" y="344" width="1" height="1" fill="#aaa"/><rect x="391" y="343" width="1" height="1" fill="#555"/><rect x="391" y="344" width="1" height="1" fill="#aaa"/><rect x="410" y="343" width="1" height="1" fill="#555"/><rect x="410" y="344" width="1" height="1" fill="#aaa"/><rect x="428" y="343" width="1" height="1" fill="#555"/><rect x="428" y="344" width="1" height="1" fill="#aaa"/><rect x="443" y="343" width="1" height="1" fill="#555"/><rect x="443" y="344" width="1" height="1" fill="#aaa"/><rect x="61" y="66" width="3" height="1" fill="#1b1b1b"/><rect x="60" y="66" width="1" height="1" fill="#8d8d8d"/><rect x="61" y="136" width="3" height="1" fill="#1b1b1b"/><rect x="60" y="136" width="1" height="1" fill="#8d8d8d"/><rect x="61" y="207" width="3" height="1" fill="#1b1b1b"/><rect x="60" y="207" width="1" height="1" fill="#8d8d8d"/><rect x="63" y="234" width="1" height="1" fill="#555"/><rect x="62" y="234" width="1" height="1" fill="#aaa"/><rect x="63" y="228" width="1" height="1" fill="#555"/><rect x="62" y="228" width="1" height="1" fill="#aaa"/><rect x="63" y="222" width="1" height="1" fill="#555"/><rect x="62" y="222" width="1" height="1" fill="#aaa"/><rect x="63" y="217" width="1" height="1" fill="#555"/><rect x="62" y="217" width="1" height="1" fill="#aaa"/><rect x="63" y="213" width="1" height="1" fill="#555"/><rect x="62" y="213" width="1" height="1" fill="#aaa"/><rect x="63" y="210" width="1" height="1" fill="#555"/><rect x="62" y="210" width="1" height="1" fill="#aaa"/><rect x="63" y="185" width="1" height="1" fill="#555"/><rect x="62" y="185" width="1" height="1" fill="#aaa"/><rect x="63" y="173" width="1" height="1" fill="#555"/><rect x="62" y="173" width="1" height="1" fill="#aaa"/><rect x="63" y="164" width="1" height="1" fill="#555"/><rect x="62" y="164" width="1" height="1" fill="#aaa"/><rect x="63" y="157" width="1" height="1" fill="#555"/><rect x="62" y="157" width="1" height="1" fill="#aaa"/><rect x="63" y="152" width="1" height="1" fill="#555"/><rect x="62" y="152" width="1" height="1" fill="#aaa"/><rect x="63" y="147" width="1" height="1" fill="#555"/><rect x="62" y="147" width="1" height="1" fill="#aaa"/><rect x="63" y="143" width="1" height="1" fill="#555"/><rect x="62" y="143" width="1" height="1" fill="#aaa"/><rect x="63" y="140" width="1" height="1" fill="#555"/><rect x="62" y="140" width="1" height="1" fill="#aaa"/><rect x="63" y="115" width="1" height="1" fill="#555"/><rect x="62" y="115" width="1" height="1" fill="#aaa"/><rect x="63" y="103" width="1" height="1" fill="#555"/><rect x="62" y="103" width="1" height="1" fill="#aaa"/><rect x="63" y="94" width="1" height="1" fill="#555"/><rect x="62" y="94" width="1" height="1" fill="#aaa"/><rect x="63" y="87" width="1" height="1" fill="#555"/><rect x="62" y="87" width="1" height="1" fill="#aaa"/><rect x="63" y="82" width="1" height="1" fill="#555"/><rect x="62" y="82" width="1" height="1" fill="#aaa"/><rect x="63" y="77" width="1" height="1" fill="#555"/><rect x="62" y="77" width="1" height="1" fill="#aaa"/><rect x="63" y="73" width="1" height="1" fill="#555"/><rect x="62" y="73" width="1" height="1" fill="#aaa"/><rect x="63" y="69" width="1" height="1" fill="#555"/><rect x="62" y="69" width="1" height="1" fill="#aaa"/><rect x="61" y="319" width="3" height="1" fill="#1b1b1b"/><rect x="60" y="319" width="1" height="1" fill="#8d8d8d"/><rect x="61" y="293" width="3" height="1" fill="#1b1b1b"/><rect x="60" y="293" width="1" height="1" fill="#8d8d8d"/><rect x="61" y="267" width="3" height="1" fill="#1b1b1b"/><rect x="60" y="267" width="1" height="1" fill="#8d8d8d"/></g>
<g id="labels" style="will-change:transform">
<text x="262.7" y="39" font-size="13.8" text-anchor="middle" textLength="287" lengthAdjust="spacingAndGlyphs">Simulated spectrum and fit without pile-up</text>
<text transform="translate(21.9,143.1) rotate(-90)" font-size="11.4" text-anchor="middle" textLength="85" lengthAdjust="spacingAndGlyphs">Counts/sec/keV</text>
<text x="43.6" y="71" font-size="11.2" text-anchor="end" textLength="13.6" lengthAdjust="spacingAndGlyphs">10</text>
<text x="44.4" y="66.9" font-size="7.8">−1</text>
<text x="43.6" y="141" font-size="11.2" text-anchor="end" textLength="13.6" lengthAdjust="spacingAndGlyphs">10</text>
<text x="44.4" y="136.9" font-size="7.8">−2</text>
<text x="43.6" y="211" font-size="11.2" text-anchor="end" textLength="13.6" lengthAdjust="spacingAndGlyphs">10</text>
<text x="44.4" y="206.9" font-size="7.8">−3</text>
<text transform="translate(32.4,295.3) rotate(-90)" font-size="11.4" text-anchor="middle" textLength="33" lengthAdjust="spacingAndGlyphs">Sigma</text>
<text x="56.4" y="270.9" font-size="11.2" text-anchor="end">2</text>
<text x="56.4" y="297" font-size="11.2" text-anchor="end">0</text>
<text x="54.4" y="322.7" font-size="11.2" text-anchor="end">−2</text>
<text x="152.2" y="360" font-size="11.2" textLength="13.6" lengthAdjust="spacingAndGlyphs">10</text>
<text x="166.0" y="355.7" font-size="7.8">0</text>
<text x="447.2" y="360" font-size="11.2" textLength="13.6" lengthAdjust="spacingAndGlyphs">10</text>
<text x="461.0" y="355.7" font-size="7.8">1</text>
<text x="261.9" y="375.8" font-size="11.4" text-anchor="middle" textLength="71" lengthAdjust="spacingAndGlyphs">Energy (keV)</text>
</g>
</svg>
</body></html>
